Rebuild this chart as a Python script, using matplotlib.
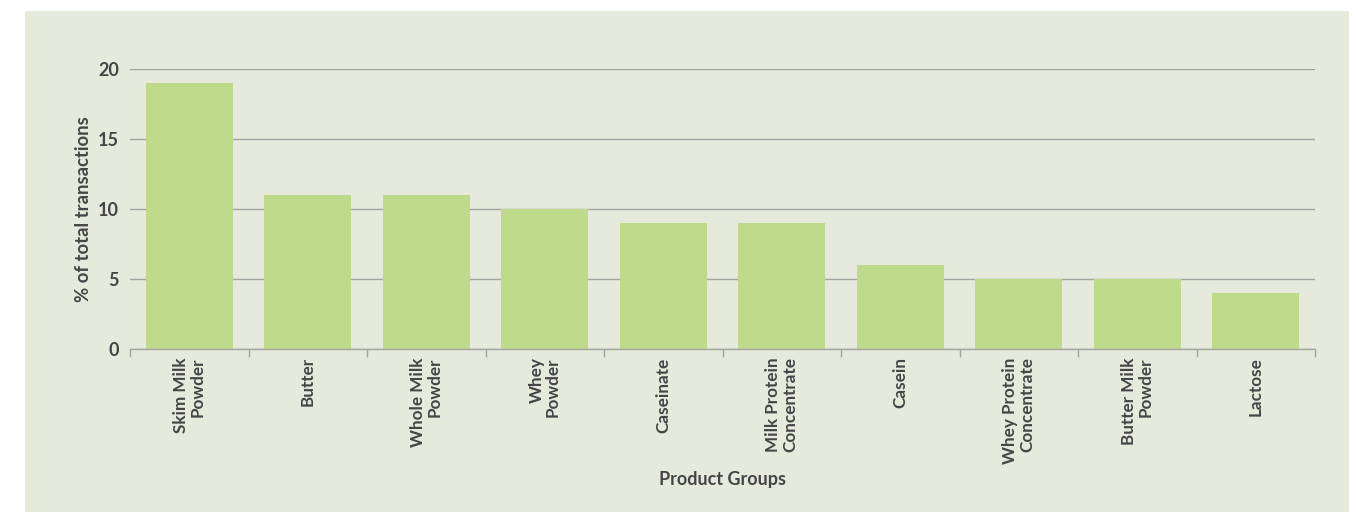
import matplotlib
matplotlib.use('Agg')
import matplotlib.pyplot as plt
import numpy as np
from matplotlib.patches import Rectangle

plt.rcParams['font.family'] = ['Lato', 'DejaVu Sans']

# dados
produtos = ['Skim Milk\nPowder', 'Butter', 'Whole Milk\nPowder', 'Whey\nPowder', 'Caseinate',
            'Milk Protein\nConcentrate', 'Casein', 'Whey Protein\nConcentrate',
            'Butter Milk\nPowder', 'Lactose']
percentual = [19, 11, 11, 10, 9, 9, 6, 5, 5, 4]

cor_fundo = '#E6EADC'
cor_barra = '#BEDA8A'
cor_texto = '#454545'
cor_grade = '#A3A5A0'

fig = plt.figure(figsize=(13.58, 5.12), dpi=100)
fig.patch.set_facecolor('white')
# painel de fundo esverdeado
fig.patches.append(Rectangle((25 / 1358, 0), 1324 / 1358, 501 / 512,
                             transform=fig.transFigure, facecolor=cor_fundo,
                             edgecolor='none', zorder=-10))

ax = fig.add_axes([130 / 1358, 163 / 512, 1185 / 1358, 280 / 512])
ax.set_facecolor('none')

x = np.arange(len(produtos))
ax.bar(x, percentual, width=0.73, color=cor_barra, zorder=2)

ax.set_xlim(-0.5, len(produtos) - 0.5)
ax.set_ylim(0, 20)
ax.set_yticks([0, 5, 10, 15, 20])
ax.yaxis.grid(True, color=cor_grade, linewidth=1.0, zorder=1)
ax.set_axisbelow(True)

ax.set_xticks(x)
ax.set_xticklabels(produtos, rotation=90, ha='center', va='top', ma='right',
                   fontsize=12.3, fontweight='bold', color=cor_texto, linespacing=1.05)
ax.set_xticks(np.arange(-0.5, len(produtos)), minor=True)
ax.tick_params(axis='x', which='major', length=0, pad=6)
ax.tick_params(axis='x', which='minor', length=6, color=cor_grade, width=1)
ax.tick_params(axis='y', length=0, pad=8, labelsize=13, labelcolor=cor_texto)
for lbl in ax.get_yticklabels():
    lbl.set_fontweight('bold')

for lado in ['top', 'right', 'left']:
    ax.spines[lado].set_visible(False)
ax.spines['bottom'].set_color(cor_grade)
ax.spines['bottom'].set_linewidth(1.0)

ax.set_ylabel('% of total transactions', fontsize=13.3, fontweight='bold',
              color=cor_texto, labelpad=4)
ax.set_xlabel('Product Groups', fontsize=13, fontweight='bold', color=cor_texto, labelpad=5)

fig.savefig('out.png', dpi=100, facecolor='white')
